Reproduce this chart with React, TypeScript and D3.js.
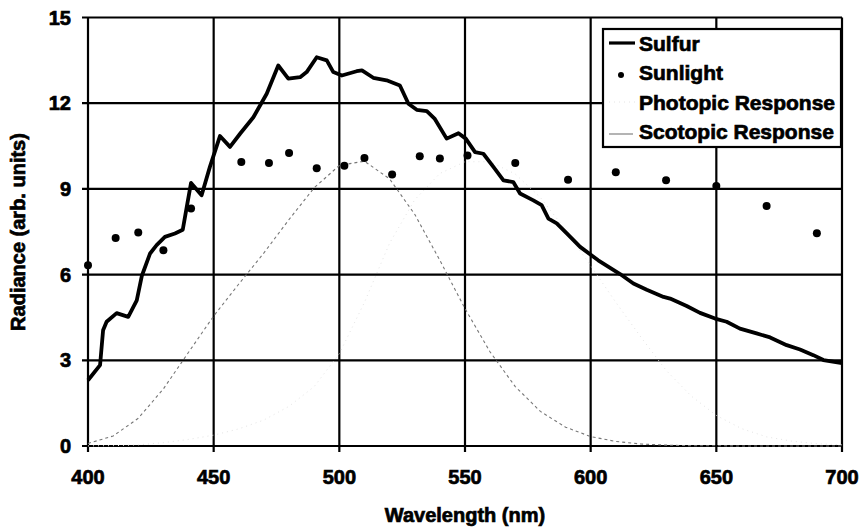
import React from 'react';
import * as d3 from 'd3';

// Sulfur lamp spectrum
const sulfurWl = [400, 404.8, 406, 407.4, 411.4, 416, 419.4, 421.4, 424.7, 427.3, 430.6, 434.6, 437.7, 439.3, 441, 445.2, 448.5, 452.5, 456.5, 460.5, 465.8, 471.1, 475.7, 479.7, 484.4, 487, 491, 495, 497.6, 501, 506.9, 509, 513.5, 518.8, 524.1, 527.5, 530.8, 534.8, 538, 542.7, 547.4, 550.3, 554, 557.3, 561.3, 565.3, 569.2, 571.9, 577.2, 580.5, 583.2, 586.5, 590.5, 595.8, 603, 611.7, 617, 622.3, 629, 631.6, 638.2, 643.5, 649.5, 654.1, 659.4, 666, 671.4, 678, 683.3, 688.6, 692.6, 700];
const sulfurVal = [2.3, 2.83, 4.05, 4.35, 4.65, 4.52, 5.1, 5.95, 6.74, 7.03, 7.32, 7.44, 7.57, 8.37, 9.21, 8.78, 9.77, 10.85, 10.47, 10.93, 11.51, 12.33, 13.32, 12.86, 12.91, 13.09, 13.61, 13.5, 13.09, 12.97, 13.12, 13.15, 12.89, 12.8, 12.62, 11.98, 11.77, 11.72, 11.45, 10.76, 10.95, 10.76, 10.29, 10.23, 9.77, 9.3, 9.24, 8.84, 8.6, 8.43, 7.96, 7.79, 7.44, 6.97, 6.5, 6.02, 5.69, 5.47, 5.22, 5.16, 4.9, 4.66, 4.46, 4.35, 4.11, 3.94, 3.8, 3.53, 3.38, 3.18, 3.01, 2.9];

// Sunlight samples
const sunWl = [400, 411, 420, 430, 441, 461, 472, 480, 491, 502, 510, 521, 532, 540, 551, 570, 591, 610, 630, 650, 670, 690];
const sunVal = [6.33, 7.28, 7.47, 6.85, 8.31, 9.94, 9.91, 10.26, 9.72, 9.81, 10.08, 9.5, 10.14, 10.06, 10.17, 9.91, 9.32, 9.58, 9.3, 9.1, 8.4, 7.45];

// eye response curves, 10 nm steps from 400 to 700
const responseWl = [400, 410, 420, 430, 440, 450, 460, 470, 480, 490, 500, 510, 520, 530, 540, 550, 560, 570, 580, 590, 600, 610, 620, 630, 640, 650, 660, 670, 680, 690, 700];
const photopicVal = [0.004, 0.012, 0.04, 0.116, 0.23, 0.38, 0.6, 0.91, 1.39, 2.08, 3.23, 5.03, 7.1, 8.62, 9.54, 9.95, 9.95, 9.52, 8.7, 7.57, 6.31, 5.03, 3.81, 2.65, 1.75, 1.07, 0.61, 0.32, 0.17, 0.08, 0.04];
const scotopicVal = [0.09, 0.35, 0.97, 2.0, 3.28, 4.55, 5.67, 6.76, 7.93, 9.04, 9.82, 9.97, 9.35, 8.11, 6.5, 4.81, 3.29, 2.08, 1.21, 0.66, 0.33, 0.16, 0.07, 0.03, 0.01, 0.01, 0, 0, 0, 0, 0];

const xTicks = [400, 450, 500, 550, 600, 650, 700];
const yTicks = [0, 3, 6, 9, 12, 15];
const legendLabels = ['Sulfur', 'Sunlight', 'Photopic Response', 'Scotopic Response'];

const width = 862;
const height = 528;
const font = '"Liberation Sans", Arial, sans-serif';

export default function App() {
  const x = d3.scaleLinear().domain([400, 700]).range([88, 842]);
  const y = d3.scaleLinear().domain([0, 15]).range([446, 17.5]);

  const line = d3.line<[number, number]>()
    .x(d => x(d[0]))
    .y(d => y(d[1]));

  const sulfur = sulfurWl.map((w, i) => [w, sulfurVal[i]] as [number, number]);
  const photopic = responseWl.map((w, i) => [w, photopicVal[i]] as [number, number]);
  const scotopic = responseWl.map((w, i) => [w, scotopicVal[i]] as [number, number]);

  const legendY = [43, 72, 102, 131];

  // heavy scanned-looking bold text
  const textStyle = { stroke: '#000', strokeWidth: 0.7 };

  return (
    <svg width={width} height={height} style={{ position: 'absolute', left: 0, top: 0, background: '#fff' }}
      fontFamily={font} fontWeight="bold">
      {/* grid */}
      {yTicks.map(t => (
        <line key={'gy' + t} x1={x(400) - 6} x2={x(700)} y1={y(t)} y2={y(t)} stroke="#000" strokeWidth={2.2} />
      ))}
      {xTicks.map(t => (
        <line key={'gx' + t} x1={x(t)} x2={x(t)} y1={y(15)} y2={y(0) + 6} stroke="#000" strokeWidth={2.2} />
      ))}

      {/* response curves */}
      <path d={line(photopic) || ''} fill="none" stroke="#e4e4e4" strokeWidth={1} strokeDasharray="1,4" />
      <path d={line(scotopic) || ''} fill="none" stroke="#777" strokeWidth={1.1} strokeDasharray="3,3" />

      {/* sulfur */}
      <path d={line(sulfur) || ''} fill="none" stroke="#000" strokeWidth={3.8} strokeLinejoin="round" />

      {/* sunlight */}
      {sunWl.map((w, i) => (
        <circle key={'s' + i} cx={x(w)} cy={y(sunVal[i])} r={4} fill="#000" />
      ))}

      {/* tick labels */}
      {yTicks.map(t => (
        <text key={'ly' + t} x={71} y={y(t) + 7} textAnchor="end" fontSize={20} style={textStyle}>{t}</text>
      ))}
      {xTicks.map(t => (
        <text key={'lx' + t} x={x(t)} y={484} textAnchor="middle" fontSize={20} style={textStyle}>{t}</text>
      ))}

      <text x={465} y={522} textAnchor="middle" fontSize={20} style={textStyle}>Wavelength (nm)</text>
      <text transform="translate(25,232) rotate(-90)" textAnchor="middle" fontSize={20} style={textStyle}>Radiance (arb. units)</text>

      {/* legend */}
      <rect x={603} y={29} width={238} height={118} fill="#fff" stroke="#000" strokeWidth={2.2} />
      <line x1={609} x2={635} y1={legendY[0]} y2={legendY[0]} stroke="#000" strokeWidth={3.2} />
      <circle cx={621} cy={legendY[1] + 3} r={3} fill="#000" />
      <line x1={609} x2={635} y1={legendY[2]} y2={legendY[2]} stroke="#e4e4e4" strokeWidth={1} strokeDasharray="1,4" />
      <line x1={609} x2={633} y1={legendY[3] + 3} y2={legendY[3] + 3} stroke="#777" strokeWidth={1.1} />
      {legendLabels.map((l, i) => (
        <text key={l} x={639} y={legendY[i] + 8} fontSize={21} style={textStyle}>{l}</text>
      ))}
    </svg>
  );
}
